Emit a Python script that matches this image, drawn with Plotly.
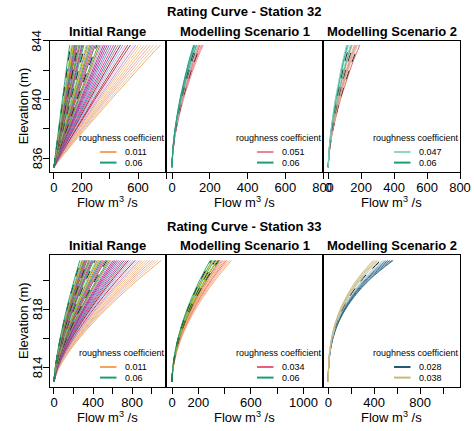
import plotly.graph_objects as go

# ======================= DATA =======================
# Elevation sample levels (m) along each rating curve
ELEV_32 = [835.4, 836.2, 837.5, 838.7, 840.0, 841.2, 842.5, 843.7]
ELEV_33 = [813.0, 813.85, 815.1, 816.35, 817.6, 818.85, 820.1, 821.35]

# Shape of the curves: fraction of the top-of-curve flow at each elevation level
PROFILE_32_INIT = [0, 0.085, 0.235, 0.38, 0.535, 0.685, 0.845, 1.0]
PROFILE_32_S1 = [0, 0.02, 0.095, 0.21, 0.365, 0.545, 0.76, 1.0]
PROFILE_32_S2 = [0, 0.024, 0.11, 0.23, 0.385, 0.565, 0.77, 1.0]
PROFILE_33_INIT = [0, 0.04, 0.144, 0.277, 0.433, 0.607, 0.796, 1.0]
PROFILE_33_S1 = [0, 0.016, 0.082, 0.19, 0.34, 0.526, 0.746, 1.0]
PROFILE_33_S2 = [0, 0.004, 0.03, 0.095, 0.215, 0.40, 0.655, 1.0]

# Flow (m3/s) reached at the top elevation, one value per simulated curve
TOPQ_32_INIT = [112, 118, 124, 130, 136, 142, 148, 154, 160, 166, 172, 178, 185,
                192, 199, 206, 214, 222, 230, 238, 247, 256, 265, 275, 285, 295,
                306, 317, 329, 341, 353, 366, 380, 395, 410, 426, 442, 458, 475,
                492, 510, 528, 546, 565, 584, 604, 624, 645, 666, 688, 710, 735, 760]
TOPQ_32_S1 = [114, 117, 120, 123, 126, 129, 132, 135, 138, 141, 144, 148, 152, 156, 160, 165]
TOPQ_32_S2 = [110, 116, 122, 128, 134, 140, 146, 152, 158, 164, 170, 177, 184, 192]
TOPQ_33_INIT = [265, 272, 280, 288, 296, 304, 312, 320, 329, 338, 347, 356, 366,
                376, 386, 397, 408, 420, 432, 444, 457, 470, 484, 498, 512, 527,
                542, 558, 574, 590, 607, 625, 643, 662, 681, 701, 721, 742, 763,
                785, 808, 831, 855, 879, 904, 930, 956, 983, 1010, 1038, 1066, 1099]
TOPQ_33_S1 = [290, 298, 306, 314, 322, 330, 338, 346, 354, 362, 370, 380, 390, 400, 412, 424, 438, 452]
TOPQ_33_S2 = [392, 405, 418, 431, 445, 459, 474, 489, 505, 521, 538, 555, 565]

# Legend entries (roughness coefficient)
LEG_32_INIT = ["0.011", "0.06"]
LEG_32_S1 = ["0.051", "0.06"]
LEG_32_S2 = ["0.047", "0.06"]
LEG_33_INIT = ["0.011", "0.06"]
LEG_33_S1 = ["0.034", "0.06"]
LEG_33_S2 = ["0.028", "0.038"]

# Tick marks and the subset of ticks that carry a label
X_TICKS_32 = [0, 200, 400, 600, 800]
X_TICKS_33 = [0, 200, 400, 600, 800, 1000]
X_LABELLED = {
    (0, 0): [0, 200, 600], (0, 1): [0, 200, 400, 600, 800], (0, 2): [0, 200, 400, 600, 800],
    (1, 0): [0, 400, 800], (1, 1): [0, 200, 600, 1000], (1, 2): [0, 400, 800],
}
Y_TICKS_32 = [836, 838, 840, 842, 844]
Y_TICKS_33 = [814, 816, 818, 820]
Y_LABELLED_32 = [836, 840, 844]
Y_LABELLED_33 = [814, 818]
SUBTITLES = ["Initial Range", "Modelling Scenario 1", "Modelling Scenario 2"]
TITLES = ["Rating Curve - Station 32", "Rating Curve - Station 33"]

# ======================= STYLES =======================
W, H = 474, 431
FONT = "Arial, Liberation Sans, sans-serif"
GREEN = "#1B9E77"
ORANGE = "#F4A460"
BLACK = "#000000"

LEFT_PAL = [GREEN, BLACK, "#A6D854", "#7570B3", "#E6AB02", "#66A61E", "#1F78B4",
            "#E7298A", "#A6761D", "#6A3D9A", BLACK, "#33A02C", "#B15928", "#80B1D3",
            "#C51B7D", "#666666"]
RIGHT_PAL = ["#7B3294", "#C51B7D", "#4575B4", "#9970AB", "#E7298A", "#1F78B4",
             "#D6604D", "#8E0152", "#74ADD1", "#C2A5CF", "#B2182B", "#F1B6DA",
             "#9E9AC8", "#F4A582", "#E8C39E", "#FDB863", "#DEB887", "#F39AB0",
             "#E0C09A", "#E8C39E", ORANGE]

COL_32_S1 = [GREEN, "#5AB4AC", GREEN, "#66C2A5", BLACK, "#35978F", "#8DD3C7", BLACK,
             "#B2ABD2", "#F4A582", "#E7849A", "#D6604D", BLACK, "#E7849A", "#F4A582", "#E7849A"]
COL_32_S2 = ["#8DD3C7", GREEN, "#66C2A5", BLACK, "#8DD3C7", "#35978F", "#F4A582",
             BLACK, "#D8B365", "#E7849A", "#B2ABD2", "#F4A582", BLACK, "#D6604D"]
COL_33_S1 = [GREEN, BLACK, "#66A61E", "#E6C229", GREEN, BLACK, "#E6C229", "#33A02C",
             BLACK, "#A6761D", "#F4A582", "#E7849A", "#FDB863", "#F4A460", "#E5607F",
             "#F4A582", "#F3B89A", "#F4A460"]
COL_33_S2 = ["#C8B878", "#D8C890", "#C8B878", "#B8C8C8", "#C8B878", BLACK, "#A6CEE3",
             "#9FB8C8", "#4A7A96", "#2F6A86", "#1F5C73", "#4A7A96", "#1F5C73"]

LEG_COL = {
    0: [ORANGE, GREEN], 1: ["#E7849A", GREEN], 2: ["#8DD3C7", GREEN],
    3: [ORANGE, GREEN], 4: ["#E5607F", GREEN], 5: ["#1F5C73", "#C8B878"],
}

# panel geometry in pixels
PX_X = [(49.5, 166.0), (166.0, 323.0), (323.0, 460.0)]
PX_Y = [(40.7, 172.0), (255.0, 387.0)]
X_RANGE = [[-32, 800], [-46, 1148]]
Y_RANGE = [[835.07, 844.0], [812.64, 821.72]]


def px(x):
    return x / W


def py(y):
    return 1 - y / H


def init_colors(n):
    cols = []
    split = int(n * 0.6)
    m = n - split
    for i in range(n):
        if i < split:
            c = LEFT_PAL[i % len(LEFT_PAL)]
        else:
            j = i - split
            c = RIGHT_PAL[round(j * (len(RIGHT_PAL) - 1) / max(m - 1, 1))]
        cols.append(c)
    cols[0] = GREEN
    return cols


fig = go.Figure()

panels = [
    (0, 0, ELEV_32, PROFILE_32_INIT, TOPQ_32_INIT, init_colors(len(TOPQ_32_INIT))),
    (0, 1, ELEV_32, PROFILE_32_S1, TOPQ_32_S1, COL_32_S1),
    (0, 2, ELEV_32, PROFILE_32_S2, TOPQ_32_S2, COL_32_S2),
    (1, 0, ELEV_33, PROFILE_33_INIT, TOPQ_33_INIT, init_colors(len(TOPQ_33_INIT))),
    (1, 1, ELEV_33, PROFILE_33_S1, TOPQ_33_S1, COL_33_S1),
    (1, 2, ELEV_33, PROFILE_33_S2, TOPQ_33_S2, COL_33_S2),
]

layout = dict(
    template="none",
    width=W, height=H, margin=dict(l=0, r=0, t=0, b=0, pad=0, autoexpand=False),
    paper_bgcolor="white", plot_bgcolor="white", showlegend=False,
    font=dict(family=FONT, color="black", size=13),
)
annotations, shapes = [], []
TICK = dict(ticks="outside", ticklen=6, tickwidth=1, tickcolor="black")

for k, (row, col, elev, prof, topq, colors) in enumerate(panels):
    idx = k + 1
    xa = "xaxis" if idx == 1 else f"xaxis{idx}"
    ya = "yaxis" if idx == 1 else f"yaxis{idx}"
    xref = "x" if idx == 1 else f"x{idx}"
    yref = "y" if idx == 1 else f"y{idx}"

    # curves: draw high-flow ones first so the dense left cluster sits on top
    for i in list(range(len(topq)))[::-1]:
        q = [topq[i] * p for p in prof]
        c = colors[i % len(colors)]
        dash = "dash" if c == BLACK else "solid"
        fig.add_trace(go.Scatter(
            x=q, y=elev, mode="lines", xaxis=xref, yaxis=yref,
            line=dict(color=c, width=0.9, dash=dash, shape="spline"),
            hoverinfo="skip"))

    x0, x1 = PX_X[col]
    y0, y1 = PX_Y[row]
    xt = X_TICKS_32 if row == 0 else X_TICKS_33
    xlab = X_LABELLED[(row, col)]
    layout[xa] = dict(
        domain=[px(x0), px(x1)], range=X_RANGE[row], anchor=yref, automargin=False,
        tickvals=xlab, ticktext=[str(v) for v in xlab], **TICK,
        minor=dict(tickvals=[v for v in xt if v not in xlab], **TICK),
        showline=True, mirror=True, linecolor="black",
        linewidth=1, showgrid=False, zeroline=False, ticklabelstandoff=-3,
        tickfont=dict(size=13, family=FONT, color="black"))
    yt = Y_TICKS_32 if row == 0 else Y_TICKS_33
    ylab = Y_LABELLED_32 if row == 0 else Y_LABELLED_33
    ydict = dict(
        domain=[py(y1), py(y0)], range=Y_RANGE[row], anchor=xref, automargin=False,
        showline=True, mirror=True, linecolor="black", linewidth=1,
        showgrid=False, zeroline=False, showticklabels=False)
    if col == 0:
        ydict.update(tickvals=yt, **TICK)
        # rotated tick labels, placed through the y axis scale
        for v in ylab:
            annotations.append(dict(
                x=px(37), y=v, xref="paper", yref=yref, text=str(v),
                textangle=-90, showarrow=False,
                font=dict(size=13, family=FONT, color="black"),
                xanchor="center", yanchor="middle"))
    else:
        ydict.update(ticks="")
    layout[ya] = ydict

    # subtitle
    annotations.append(dict(
        x=px((x0 + x1) / 2), y=py(y0 - 9), xref="paper", yref="paper",
        text=f"<b>{SUBTITLES[col]}</b>", showarrow=False,
        font=dict(size=13, family=FONT, color="black"),
        xanchor="center", yanchor="middle"))
    # x title
    annotations.append(dict(
        x=px((x0 + x1) / 2), y=py(y1 + 30), xref="paper", yref="paper",
        text="Flow m<sup>3</sup> /s", showarrow=False,
        font=dict(size=13, family=FONT, color="black"),
        xanchor="center", yanchor="middle"))

    # legend (bottom-right, no box)
    legs = [LEG_32_INIT, LEG_32_S1, LEG_32_S2, LEG_33_INIT, LEG_33_S1, LEG_33_S2][k]
    lcol = LEG_COL[k]
    annotations.append(dict(
        x=px(x1 - 45), y=py(y1 - 34.3), xref="paper", yref="paper",
        text="roughness coefficient", showarrow=False,
        font=dict(size=9, family=FONT, color="black"),
        xanchor="center", yanchor="middle"))
    for j, (lab, c) in enumerate(zip(legs, lcol)):
        yy = y1 - 20 + j * 10.6
        shapes.append(dict(type="line", xref="paper", yref="paper",
                           x0=px(x1 - 66), x1=px(x1 - 49.5), y0=py(yy), y1=py(yy),
                           line=dict(color=c, width=2)))
        annotations.append(dict(
            x=px(x1 - 43), y=py(yy), xref="paper", yref="paper",
            text=lab, showarrow=False,
            font=dict(size=9, family=FONT, color="black"),
            xanchor="left", yanchor="middle"))

# y titles and main titles
for row in range(2):
    y0, y1 = PX_Y[row]
    annotations.append(dict(
        x=px(23), y=py((y0 + y1) / 2), xref="paper", yref="paper",
        text="Elevation (m)", textangle=-90, showarrow=False,
        font=dict(size=13, family=FONT, color="black"),
        xanchor="center", yanchor="middle"))
    annotations.append(dict(
        x=px(244), y=py([12, 226][row]), xref="paper", yref="paper",
        text=f"<b>{TITLES[row]}</b>", showarrow=False,
        font=dict(size=13, family=FONT, color="black"),
        xanchor="center", yanchor="middle"))

layout["annotations"] = annotations
layout["shapes"] = shapes
fig.update_layout(**layout)
fig.write_html(
    "out.html",
    config={"displayModeBar": False},
    post_script="document.body.style.margin='0';document.body.style.padding='0';")
